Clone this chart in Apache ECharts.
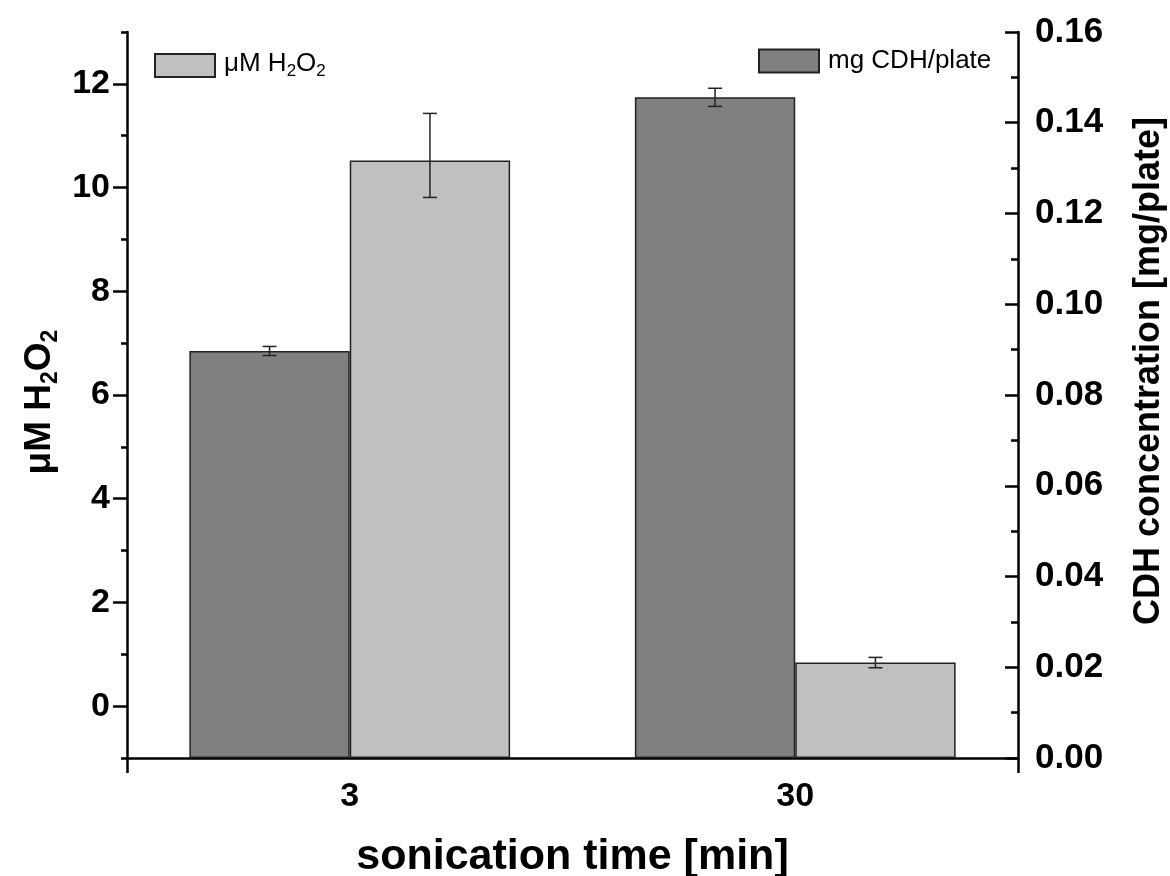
<!DOCTYPE html>
<html>
<head>
  <meta charset="utf-8">
  <title>sonication time</title>
  <script src="https://cdn.jsdelivr.net/npm/echarts@6/dist/echarts.min.js"></script>
  <style>
    html, body { margin: 0; padding: 0; background: #fff; }
    #chart1 { width: 1170px; height: 876px; }
  </style>
</head>
<body>
<div id="chart1"></div>
<script type="text/javascript">
  // data
  let categories = ['3', '30'];
  let cdhValues = [0.0897, 0.1456];      // mg CDH/plate (right axis)
  let cdhErrLow = [0.0887, 0.1436];
  let cdhErrHigh = [0.0907, 0.1476];
  let h2o2Values = [10.52, 0.84];        // uM H2O2 (left axis)
  let h2o2ErrLow = [9.81, 0.74];
  let h2o2ErrHigh = [11.43, 0.94];

  let font = 'Liberation Sans, Arial, Helvetica, sans-serif';
  let gapRatio = 0.28;

  let richName = {
    m: { fontFamily: font, fontSize: 37, fontWeight: 'bold', color: '#000', verticalAlign: 'top', lineHeight: 37 },
    s: { fontFamily: font, fontSize: 23, fontWeight: 'bold', color: '#000', verticalAlign: 'top', padding: [18, 0, 0, 0] }
  };
  let richLegend = {
    m: { fontFamily: font, fontSize: 26, color: '#000', verticalAlign: 'top', lineHeight: 26 },
    s: { fontFamily: font, fontSize: 17, color: '#000', verticalAlign: 'top', padding: [12, 0, 0, 0] }
  };

  function errorBars(sign) {
    return function (params, api) {
      let xi = api.value(0);
      let lo = api.coord([xi, api.value(1)]);
      let hi = api.coord([xi, api.value(2)]);
      let band = api.size([1, 0])[0];
      let x = lo[0] + sign * band * (1 - gapRatio) / 4;
      let st = { stroke: '#222', lineWidth: 1.5 };
      return {
        type: 'group',
        children: [
          { type: 'line', shape: { x1: x, y1: lo[1], x2: x, y2: hi[1] }, style: st },
          { type: 'line', shape: { x1: x - 7, y1: lo[1], x2: x + 7, y2: lo[1] }, style: st },
          { type: 'line', shape: { x1: x - 7, y1: hi[1], x2: x + 7, y2: hi[1] }, style: st }
        ]
      };
    };
  }

  let myChart1 = echarts.init(document.getElementById('chart1'));
  myChart1.setOption({
    animation: false,
    backgroundColor: '#fff',
    grid: { left: 127, right: 152, top: 32, bottom: 118, outerBoundsMode: 'none', containLabel: false },
    legend: [
      {
        data: ['μM H2O2'], left: 154, top: 51, padding: 0, icon: 'rect', itemWidth: 60, itemHeight: 23,
        formatter: function () { return '{m|μM H}{s|2}{m|O}{s|2}'; },
        textStyle: { fontFamily: font, fontSize: 26, color: '#000', padding: [0, 0, 0, 4], rich: richLegend }
      },
      {
        data: ['mg CDH/plate'], left: 758, top: 48, padding: 0, icon: 'rect', itemWidth: 60, itemHeight: 23,
        textStyle: { fontFamily: font, fontSize: 26, color: '#000', padding: [0, 0, 0, 4] }
      }
    ],
    xAxis: [
      {
        type: 'category', data: categories, position: 'bottom',
        axisLine: { onZero: false, lineStyle: { color: '#000', width: 2.5 } },
        axisTick: { show: false },
        axisLabel: { margin: 22, fontFamily: font, fontSize: 34, fontWeight: 'bold', color: '#000' },
        name: 'sonication time [min]', nameLocation: 'middle', nameGap: 78, nameMoveOverlap: false,
        nameTextStyle: { fontFamily: font, fontSize: 43, fontWeight: 'bold', color: '#000' }
      },
      {
        type: 'value', position: 'bottom', min: 0, max: 1, interval: 1,
        axisLine: { show: false, onZero: false },
        axisTick: { show: true, length: 15, lineStyle: { color: '#000', width: 2.5 } },
        axisLabel: { show: false }, splitLine: { show: false }
      }
    ],
    yAxis: [
      {
        type: 'value', position: 'left', offset: 0, min: -1, max: 13, interval: 2,
        startValue: -1,
        axisLine: { show: true, onZero: false, lineStyle: { color: '#000', width: 2.5 } },
        axisTick: { show: true, length: 6, lineStyle: { color: '#000', width: 2.5 } },
        minorTick: { show: true, splitNumber: 2, length: 14, lineStyle: { color: '#000', width: 2.5 } },
        axisLabel: { show: false }, splitLine: { show: false },
        name: '{m|μM H}{s|2}{m|O}{s|2}', nameLocation: 'middle', nameRotate: 90, nameGap: 65, nameMoveOverlap: false,
        nameTextStyle: { fontFamily: font, fontSize: 37, fontWeight: 'bold', color: '#000', padding: [0, 14, 0, 0], rich: richName }
      },
      {
        type: 'value', position: 'left', offset: 0, min: -1, max: 13, interval: 1,
        axisLine: { show: false, onZero: false }, axisTick: { show: false }, splitLine: { show: false },
        axisLabel: {
          margin: 17, fontFamily: font, fontSize: 34, fontWeight: 'bold', color: '#000',
          formatter: function (v) { return (v >= 0 && v <= 12 && v % 2 === 0) ? String(v) : ''; }
        }
      },
      {
        type: 'value', position: 'right', offset: 0, min: 0, max: 0.16, interval: 0.02,
        axisLine: { show: true, onZero: false, lineStyle: { color: '#000', width: 2.5 } },
        axisTick: { show: true, inside: true, length: 13, lineStyle: { color: '#000', width: 2.5 } },
        minorTick: { show: true, splitNumber: 2, length: 7, lineStyle: { color: '#000', width: 2.5 } },
        splitLine: { show: false },
        axisLabel: {
          margin: 17, fontFamily: font, fontSize: 35, fontWeight: 'bold', color: '#000',
          formatter: function (v) { return v.toFixed(2); }
        },
        name: 'CDH concentration [mg/plate]', nameLocation: 'middle', nameRotate: 90, nameGap: 113, nameMoveOverlap: false,
        nameTextStyle: { fontFamily: font, fontSize: 36, fontWeight: 'bold', color: '#000', padding: [0, 0, 0, 48] }
      }
    ],
    series: [
      {
        name: 'mg CDH/plate', type: 'bar', xAxisIndex: 0, yAxisIndex: 2, data: cdhValues,
        barGap: '0%', barCategoryGap: (gapRatio * 100) + '%',
        itemStyle: { color: '#808080', borderColor: '#222', borderWidth: 1.5 }
      },
      {
        name: 'μM H2O2', type: 'bar', xAxisIndex: 0, yAxisIndex: 0, data: h2o2Values,
        barGap: '0%', barCategoryGap: (gapRatio * 100) + '%',
        itemStyle: { color: '#c0c0c0', borderColor: '#222', borderWidth: 1.5 }
      },
      {
        type: 'custom', xAxisIndex: 0, yAxisIndex: 2, z: 5, renderItem: errorBars(-1),
        encode: { x: 0, y: [1, 2] },
        data: categories.map(function (c, i) { return [i, cdhErrLow[i], cdhErrHigh[i]]; })
      },
      {
        type: 'custom', xAxisIndex: 0, yAxisIndex: 0, z: 5, renderItem: errorBars(1),
        encode: { x: 0, y: [1, 2] },
        data: categories.map(function (c, i) { return [i, h2o2ErrLow[i], h2o2ErrHigh[i]]; })
      }
    ]
  });
</script>
</body>
</html>
